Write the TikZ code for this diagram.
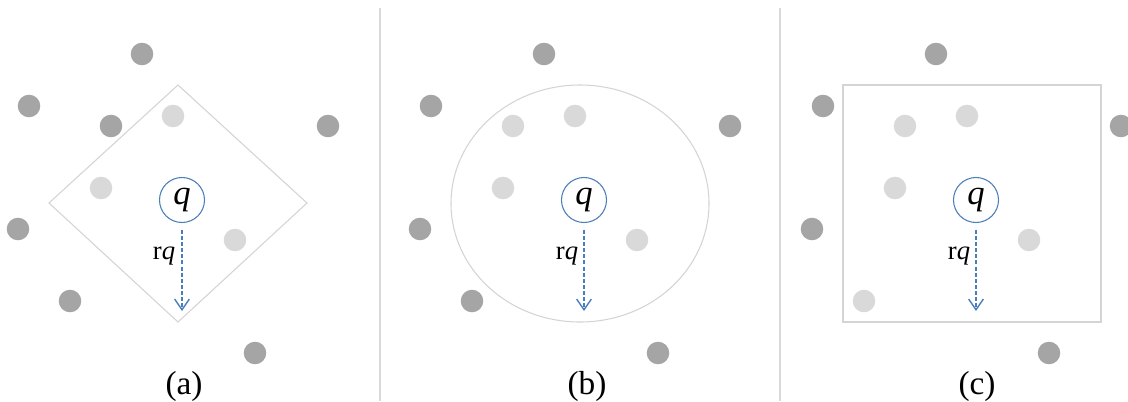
\documentclass[tikz,border=0pt]{standalone}
\usepackage{fontspec}
\setmainfont{Liberation Serif}
\usetikzlibrary{arrows.meta}
\definecolor{darkdot}{HTML}{A5A5A5}
\definecolor{lightdot}{HTML}{D9D9D9}
\definecolor{boundary}{HTML}{D4D4D4}
\definecolor{sep}{HTML}{D9D9D9}
\definecolor{qblue}{HTML}{4A7EBB}
\tikzset{
  dk/.style={circle,fill=darkdot,minimum size=16.9pt,inner sep=0pt},
  lt/.style={circle,fill=lightdot,minimum size=16.9pt,inner sep=0pt},
  qnode/.style={circle,draw=qblue,line width=0.8pt,minimum size=33.75pt,inner sep=0pt,font=\fontsize{26}{28}\selectfont\itshape},
  region/.style={draw=boundary,line width=0.8pt},
  seppen/.style={draw=sep,line width=0.8pt},
  rarrow/.style={draw=qblue,line width=1.05pt,dash pattern=on 3pt off 1.6pt,-{Straight Barb[length=8pt,width=11pt,line width=1.05pt]},shorten <=5pt},
  rlabel/.style={font=\fontsize{20}{22}\selectfont},
  caption/.style={font=\fontsize{25}{27}\selectfont}
}
\begin{document}
\begin{tikzpicture}[x=0.75pt,y=-0.75pt]
\useasboundingbox (0,0) rectangle (1128,401);
% separators
\draw[seppen] (380,8) -- (380,401);
\draw[seppen] (780,8) -- (780,401);
% ---------- panel (a)
\draw[region] (178,85) -- (307,203) -- (178,322) -- (49,203) -- cycle;
\node[dk] (a1) at (142,54) {};
\node[dk] (a2) at (29,106) {};
\node[dk] (a3) at (111,126) {};
\node[dk] (a4) at (328,126) {};
\node[dk] (a5) at (18,229) {};
\node[dk] (a6) at (70,301) {};
\node[dk] (a7) at (255,353) {};
\node[lt] (a8) at (173,116) {};
\node[lt] (a9) at (101,188) {};
\node[lt] (a10) at (235,240) {};
\node[qnode] (qa) at (182,200) {q};
\coordinate (ea) at (182,311);
\draw[rarrow] (qa.south) -- (ea);
\node[rlabel] (ra) at (164,256) {r\textit{q}};
\node[caption] (ca) at (184,386) {(a)};
% ---------- panel (b)
\draw[region] (580,203.5) ellipse [x radius=129, y radius=118.5];
\node[dk] (b1) at (544,54) {};
\node[dk] (b2) at (431,106) {};
\node[dk] (b3) at (730,126) {};
\node[dk] (b4) at (420,229) {};
\node[dk] (b5) at (472,301) {};
\node[dk] (b6) at (658,353) {};
\node[lt] (b7) at (575,116) {};
\node[lt] (b8) at (513,126) {};
\node[lt] (b9) at (503,188) {};
\node[lt] (b10) at (637,240) {};
\node[qnode] (qb) at (584,200) {q};
\coordinate (eb) at (584,311);
\draw[rarrow] (qb.south) -- (eb);
\node[rlabel] (rb) at (567,256) {r\textit{q}};
\node[caption] (cb) at (587,386) {(b)};
% ---------- panel (c)
\draw[region] (843,85) rectangle (1101,322);
\node[dk] (c1) at (936,54) {};
\node[dk] (c2) at (823,106) {};
\node[dk] (c3) at (1121,126) {};
\node[dk] (c4) at (812,229) {};
\node[dk] (c5) at (1049,353) {};
\node[lt] (c6) at (967,116) {};
\node[lt] (c7) at (905,126) {};
\node[lt] (c8) at (895,188) {};
\node[lt] (c9) at (1029,240) {};
\node[lt] (c10) at (864,301) {};
\node[qnode] (qc) at (976,200) {q};
\coordinate (ec) at (976,311);
\draw[rarrow] (qc.south) -- (ec);
\node[rlabel] (rc) at (959,256) {r\textit{q}};
\node[caption] (cc) at (977,386) {(c)};
\end{tikzpicture}
\end{document}
